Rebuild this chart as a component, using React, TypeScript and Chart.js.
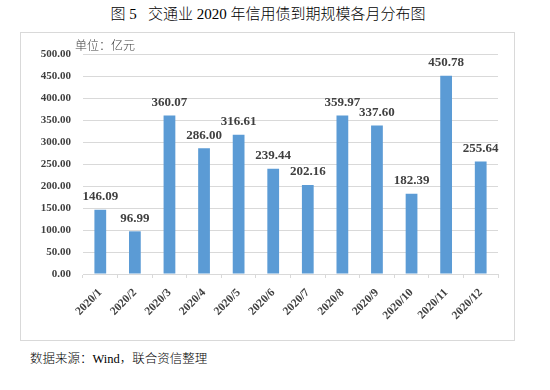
import React, { useEffect, useRef } from "react";
import { Chart, registerables } from "chart.js";

Chart.register(...registerables);

const categories = [
  "2020/1", "2020/2", "2020/3", "2020/4", "2020/5", "2020/6",
  "2020/7", "2020/8", "2020/9", "2020/10", "2020/11", "2020/12",
];
const maturityValues = [
  146.09, 96.99, 360.07, 286.0, 316.61, 239.44,
  202.16, 359.97, 337.6, 182.39, 450.78, 255.64,
];
const yMax = 500;
const yStep = 50;

const titleText = "图 5\u00a0\u00a0\u00a0交通业 2020 年信用债到期规模各月分布图";
const unitText = "单位：亿元";
const sourceText = "数据来源：Wind，联合资信整理";

const serif = '"Liberation Serif", "Times New Roman", "Noto Sans CJK SC", serif';

const valueLabelPlugin = {
  id: "valueLabels",
  afterDatasetsDraw(chart: any) {
    const ctx = chart.ctx;
    const meta = chart.getDatasetMeta(0);
    ctx.save();
    ctx.font = `bold 13px ${serif}`;
    ctx.fillStyle = "#404040";
    ctx.textAlign = "center";
    ctx.textBaseline = "middle";
    meta.data.forEach((bar: any, i: number) => {
      const v = maturityValues[i];
      ctx.fillText(v.toFixed(2), bar.x, bar.y - 13);
    });
    ctx.restore();
  },
};

export default function App() {
  const canvasRef = useRef<HTMLCanvasElement | null>(null);

  useEffect(() => {
    if (!canvasRef.current) return;
    const chart = new Chart(canvasRef.current, {
      type: "bar",
      data: {
        labels: categories,
        datasets: [
          {
            data: maturityValues,
            backgroundColor: "#5B9BD5",
            borderWidth: 0,
            barPercentage: 0.34,
            categoryPercentage: 1,
          },
        ],
      },
      options: {
        responsive: false,
        animation: false,
        devicePixelRatio: 1,
        layout: { padding: { top: 21, right: 16, left: 0, bottom: 0 } },
        plugins: {
          legend: { display: false },
          tooltip: { enabled: false },
          title: { display: false },
        },
        scales: {
          x: {
            offset: true,
            grid: {
              offset: true,
              drawOnChartArea: false,
              drawTicks: true,
              tickLength: 4,
              color: "#d9d9d9",
            },
            border: { display: true, color: "#d9d9d9", width: 1 },
            ticks: {
              minRotation: 45,
              maxRotation: 45,
              autoSkip: false,
              padding: 8,
              color: "#404040",
              font: { family: serif, size: 11.5, weight: "bold" },
            },
            afterFit: (s: any) => {
              s.height = 66;
            },
          },
          y: {
            min: 0,
            max: yMax,
            ticks: {
              stepSize: yStep,
              padding: 12,
              color: "#404040",
              font: { family: serif, size: 11, weight: "bold" },
              callback: (v: any) => Number(v).toFixed(2),
            },
            grid: { color: "#d9d9d9", drawTicks: false },
            border: { display: false },
            afterFit: (s: any) => {
              s.width = 62;
            },
          },
        },
      },
      plugins: [valueLabelPlugin],
    });
    return () => chart.destroy();
  }, []);

  return (
    <div
      style={{
        position: "fixed",
        left: 0,
        top: 0,
        width: 550,
        height: 390,
        background: "#ffffff",
        overflow: "hidden",
      }}
    >
      <div
        style={{
          position: "absolute",
          top: 4,
          left: 0,
          width: 536,
          textAlign: "center",
          fontFamily: serif,
          fontSize: 15,
          fontWeight: 300,
          color: "#000",
          lineHeight: "20px",
          whiteSpace: "pre",
        }}
      >
        {titleText}
      </div>
      <div
        style={{
          position: "absolute",
          left: 20,
          top: 32,
          width: 495,
          height: 309,
          boxSizing: "border-box",
          border: "1px solid #d9d9d9",
        }}
      >
        <canvas ref={canvasRef} width={493} height={307} style={{ display: "block" }} />
        <div
          style={{
            position: "absolute",
            left: 54,
            top: 4,
            fontFamily: '"Noto Sans CJK SC", sans-serif',
            fontSize: 12,
            fontWeight: 300,
            color: "#404040",
            lineHeight: "16px",
          }}
        >
          {unitText}
        </div>
      </div>
      <div
        style={{
          position: "absolute",
          left: 30,
          top: 351,
          fontFamily: serif,
          fontSize: 12.5,
          fontWeight: 300,
          color: "#000",
          lineHeight: "16px",
        }}
      >
        {sourceText}
      </div>
    </div>
  );
}
